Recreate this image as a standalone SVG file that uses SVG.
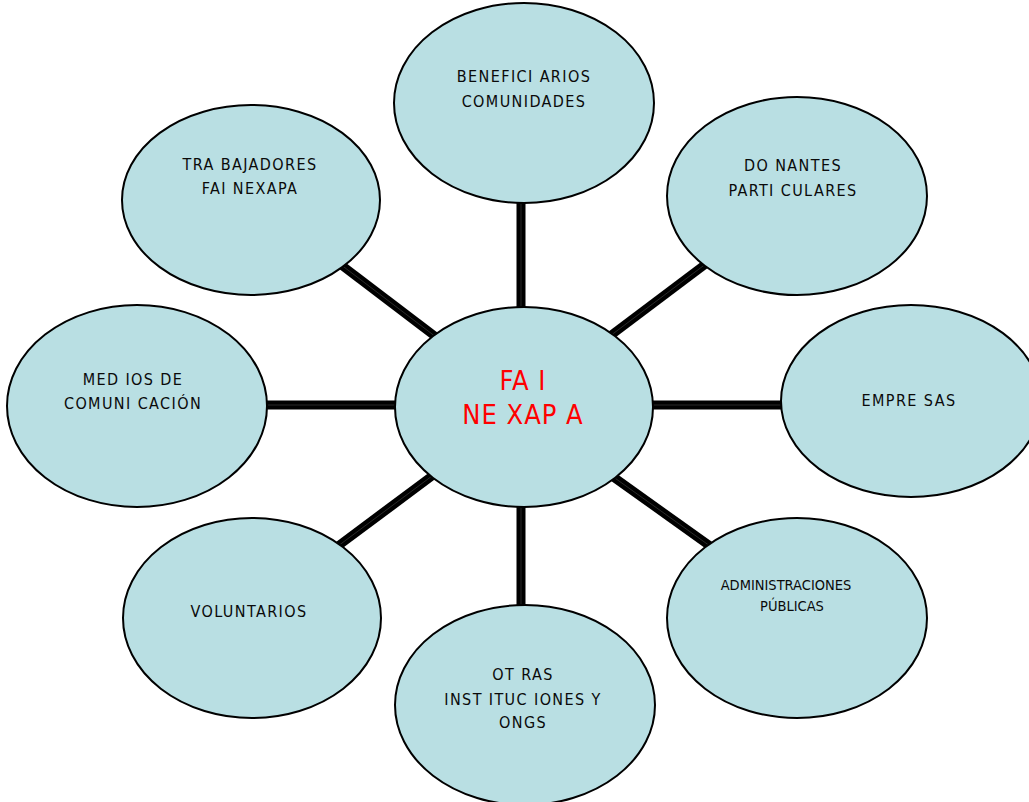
<svg xmlns="http://www.w3.org/2000/svg" width="1029" height="802" viewBox="0 0 1029 802">
<style>
.n{fill:#b9dfe3;stroke:#000;stroke-width:2}
.c{stroke:#000;stroke-width:9;fill:none}
.ci{stroke:#333;stroke-width:0.8;fill:none}
.t{font-family:"DejaVu Sans Condensed","DejaVu Sans",sans-serif;font-size:16px;fill:#0a0a0a;text-anchor:middle;letter-spacing:1.4px}
.s{font-family:"DejaVu Sans Condensed","DejaVu Sans",sans-serif;font-size:14.5px;fill:#0a0a0a;text-anchor:middle}
.r{font-family:"DejaVu Sans Condensed","DejaVu Sans",sans-serif;font-size:27px;fill:#ff0000;text-anchor:middle;letter-spacing:1px}
</style>
<rect width="1029" height="802" fill="#fff"/>
<g id="connectors">
<line class="c" x1="521" y1="200" x2="521" y2="310"/>
<line class="c" x1="521" y1="505" x2="521" y2="608"/>
<line class="c" x1="265" y1="405" x2="398" y2="405"/>
<line class="c" x1="650" y1="405" x2="785" y2="405"/>
<line class="c" x1="340" y1="264" x2="436" y2="337"/>
<line class="c" x1="707" y1="263" x2="610" y2="336"/>
<line class="c" x1="338" y1="546" x2="436" y2="473"/>
<line class="c" x1="710" y1="546" x2="612" y2="476"/>
<line class="ci" x1="521" y1="200" x2="521" y2="310"/>
<line class="ci" x1="521" y1="505" x2="521" y2="608"/>
<line class="ci" x1="265" y1="405" x2="398" y2="405"/>
<line class="ci" x1="650" y1="405" x2="785" y2="405"/>
<line class="ci" x1="340" y1="264" x2="436" y2="337"/>
<line class="ci" x1="707" y1="263" x2="610" y2="336"/>
<line class="ci" x1="338" y1="546" x2="436" y2="473"/>
<line class="ci" x1="710" y1="546" x2="612" y2="476"/>
</g>
<g id="beneficiarios">
<ellipse class="n" cx="524" cy="103" rx="130" ry="100"/>
<text class="t" x="524" y="82">BENEFICI ARIOS</text>
<text class="t" x="524" y="107">COMUNIDADES</text>
</g>
<g id="trabajadores">
<ellipse class="n" cx="251" cy="200" rx="129" ry="95"/>
<text class="t" x="250" y="170">TRA BAJADORES</text>
<text class="t" x="250" y="194">FAI NEXAPA</text>
</g>
<g id="donantes">
<ellipse class="n" cx="797" cy="196" rx="130" ry="99"/>
<text class="t" x="793" y="171">DO NANTES</text>
<text class="t" x="793" y="196">PARTI CULARES</text>
</g>
<g id="medios">
<ellipse class="n" cx="137" cy="406" rx="130" ry="101"/>
<text class="t" x="133" y="385">MED IOS DE</text>
<text class="t" x="133" y="409">COMUNI CACIÓN</text>
</g>
<g id="empresas">
<ellipse class="n" cx="911" cy="401" rx="130" ry="96"/>
<text class="t" x="909" y="406">EMPRE SAS</text>
</g>
<g id="voluntarios">
<ellipse class="n" cx="252" cy="618" rx="129" ry="100"/>
<text class="t" x="249" y="617">VOLUNTARIOS</text>
</g>
<g id="administraciones">
<ellipse class="n" cx="797" cy="618" rx="130" ry="100"/>
<text class="s" x="786" y="590">ADMINISTRACIONES</text>
<text class="s" x="792" y="611">PÚBLICAS</text>
</g>
<g id="otras">
<ellipse class="n" cx="525" cy="705" rx="130" ry="100"/>
<text class="t" x="523" y="680">OT RAS</text>
<text class="t" x="523" y="705">INST ITUC IONES  Y</text>
<text class="t" x="523" y="728">ONGS</text>
</g>
<g id="fai">
<ellipse class="n" cx="524" cy="407" rx="129" ry="100"/>
<text class="r" x="523" y="390">FA I</text>
<text class="r" x="523" y="424">NE XAP A</text>
</g>
</svg>
